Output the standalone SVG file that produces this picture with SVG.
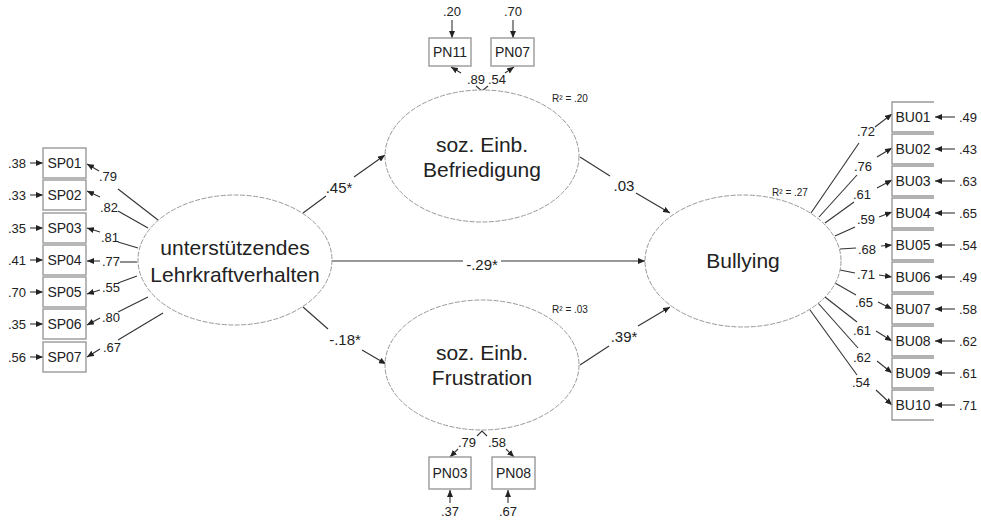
<svg xmlns="http://www.w3.org/2000/svg" width="981" height="520" viewBox="0 0 981 520">
<defs>
<marker id="ah" markerUnits="userSpaceOnUse" markerWidth="7" markerHeight="6" refX="7" refY="3" orient="auto"><path d="M0,0 L7,3 L0,6 z" fill="#222"/></marker>
<style>
text{font-family:"Liberation Sans",Arial,sans-serif;fill:#222;text-anchor:middle}
.n{font-size:13px}
.p{font-size:15px}
.b{font-size:14px}
.l{font-size:21px}
.r{font-size:10px}
.ell{fill:#fff;stroke:#999;stroke-width:1;stroke-dasharray:5 1.5}
.box{fill:none;stroke:#999;stroke-width:1.4}
.c line,.c path{stroke:#333;stroke-width:1.1;fill:none}
.a{marker-end:url(#ah)}
</style>
</defs>
<rect width="981" height="520" fill="#fff"/>

<g id="connectors" class="c">
<line x1="303" y1="213" x2="326" y2="196"/><line class="a" x1="354" y1="177" x2="385" y2="155"/>
<line x1="332" y1="261" x2="463" y2="261"/><line class="a" x1="501" y1="261" x2="645" y2="261"/>
<line x1="303" y1="307" x2="328" y2="329"/><line class="a" x1="362" y1="350" x2="386" y2="364"/>
<line x1="580" y1="157" x2="610" y2="176"/><line class="a" x1="636" y1="193" x2="670" y2="213"/>
<line x1="580" y1="365" x2="609" y2="346"/><line class="a" x1="638" y1="326" x2="670" y2="307"/>
<line x1="158" y1="220" x2="118" y2="189"/><line class="a" x1="99" y1="171" x2="87" y2="164"/>
<line x1="148" y1="228" x2="118" y2="211"/><line class="a" x1="100" y1="197" x2="87" y2="191"/>
<line x1="138" y1="248" x2="118" y2="242"/><line class="a" x1="100" y1="232" x2="87" y2="228"/>
<line x1="137" y1="262" x2="120" y2="262"/><line class="a" x1="100" y1="261" x2="87" y2="261"/>
<line x1="137" y1="276" x2="118" y2="283"/><line class="a" x1="100" y1="290" x2="87" y2="294"/>
<line x1="148" y1="297" x2="118" y2="312"/><line class="a" x1="100" y1="318" x2="87" y2="325"/>
<line x1="163" y1="313" x2="118" y2="340"/><line class="a" x1="100" y1="349" x2="87" y2="357"/>
<line class="a" x1="30" y1="163" x2="43" y2="163"/>
<line class="a" x1="30" y1="195" x2="43" y2="195"/>
<line class="a" x1="30" y1="228" x2="43" y2="228"/>
<line class="a" x1="30" y1="260" x2="43" y2="260"/>
<line class="a" x1="30" y1="292" x2="43" y2="292"/>
<line class="a" x1="30" y1="324" x2="43" y2="324"/>
<line class="a" x1="30" y1="357" x2="43" y2="357"/>
<line x1="811" y1="213" x2="859" y2="143"/><line class="a" x1="875" y1="127" x2="892" y2="114"/>
<line x1="819" y1="217" x2="857" y2="175"/><line class="a" x1="877" y1="157" x2="892" y2="148"/>
<line x1="825" y1="223" x2="854" y2="202"/><line class="a" x1="877" y1="188" x2="892" y2="180"/>
<line x1="835" y1="236" x2="855" y2="227"/><line class="a" x1="879" y1="217" x2="892" y2="212"/>
<line x1="840" y1="249" x2="856" y2="248"/><line class="a" x1="881" y1="246" x2="892" y2="245"/>
<line x1="840" y1="270" x2="855" y2="273"/><line class="a" x1="879" y1="275" x2="892" y2="277"/>
<line x1="835" y1="283" x2="856" y2="295"/><line class="a" x1="878" y1="302" x2="892" y2="309"/>
<line x1="825" y1="297" x2="857" y2="322"/><line class="a" x1="876" y1="331" x2="892" y2="341"/>
<line x1="818" y1="303" x2="858" y2="348"/><line class="a" x1="877" y1="361" x2="892" y2="373"/>
<line x1="810" y1="310" x2="857" y2="375"/><line class="a" x1="876" y1="390" x2="892" y2="405"/>
<line class="a" x1="955" y1="117" x2="935" y2="117"/>
<line class="a" x1="955" y1="149" x2="935" y2="149"/>
<line class="a" x1="955" y1="181" x2="935" y2="181"/>
<line class="a" x1="955" y1="213" x2="935" y2="213"/>
<line class="a" x1="955" y1="245" x2="935" y2="245"/>
<line class="a" x1="955" y1="277" x2="935" y2="277"/>
<line class="a" x1="955" y1="309" x2="935" y2="309"/>
<line class="a" x1="955" y1="341" x2="935" y2="341"/>
<line class="a" x1="955" y1="373" x2="935" y2="373"/>
<line class="a" x1="955" y1="405" x2="935" y2="405"/>
<line class="a" x1="452" y1="20" x2="452" y2="38"/>
<line class="a" x1="513" y1="20" x2="513" y2="38"/>
<path d="M476,86 L482,91 L488,86"/>
<line class="a" x1="461" y1="73" x2="451" y2="67"/>
<line class="a" x1="505" y1="73" x2="514" y2="67"/>
<path d="M477,436 L482,431 L487,436"/>
<line class="a" x1="458" y1="449" x2="450" y2="457"/>
<line class="a" x1="506" y1="449" x2="514" y2="457"/>
<line class="a" x1="450" y1="503" x2="450" y2="490"/>
<line class="a" x1="508" y1="503" x2="508" y2="490"/>
</g>

<g id="lehrkraft"><ellipse class="ell" cx="235" cy="260" rx="97" ry="65"/><text class="l" x="235" y="255">unterstützendes</text><text class="l" x="235" y="282">Lehrkraftverhalten</text></g>
<g id="befriedigung"><ellipse class="ell" cx="482" cy="156" rx="97" ry="66"/><text class="l" x="482" y="152">soz. Einb.</text><text class="l" x="482" y="177">Befriedigung</text><text class="r" x="570" y="102">R² = .20</text></g>
<g id="frustration"><ellipse class="ell" cx="482" cy="365" rx="97" ry="65"/><text class="l" x="482" y="360">soz. Einb.</text><text class="l" x="482" y="385">Frustration</text><text class="r" x="570" y="313">R² = .03</text></g>
<g id="bullying"><ellipse class="ell" cx="743" cy="261" rx="98" ry="66"/><text class="l" x="743" y="268">Bullying</text><text class="r" x="790" y="196">R² = .27</text></g>

<g id="path-labels">
<text class="p" x="339" y="193">.45*</text>
<text class="p" x="482" y="270">-.29*</text>
<text class="p" x="345" y="345">-.18*</text>
<text class="p" x="624" y="191">.03</text>
<text class="p" x="624" y="342">.39*</text>
</g>

<g id="SP01"><rect class="box" x="43" y="148" width="43" height="30"/><text class="b" x="64.5" y="168">SP01</text><text class="n" x="17" y="168">.38</text><text class="n" x="108" y="181">.79</text></g>
<g id="SP02"><rect class="box" x="43" y="180" width="43" height="30"/><text class="b" x="64.5" y="200">SP02</text><text class="n" x="17" y="200">.33</text><text class="n" x="109" y="212">.82</text></g>
<g id="SP03"><rect class="box" x="43" y="213" width="43" height="30"/><text class="b" x="64.5" y="233">SP03</text><text class="n" x="17" y="233">.35</text><text class="n" x="110" y="242">.81</text></g>
<g id="SP04"><rect class="box" x="43" y="245" width="43" height="30"/><text class="b" x="64.5" y="265">SP04</text><text class="n" x="17" y="265">.41</text><text class="n" x="111" y="266">.77</text></g>
<g id="SP05"><rect class="box" x="43" y="277" width="43" height="30"/><text class="b" x="64.5" y="297">SP05</text><text class="n" x="17" y="297">.70</text><text class="n" x="111" y="292">.55</text></g>
<g id="SP06"><rect class="box" x="43" y="309" width="43" height="30"/><text class="b" x="64.5" y="329">SP06</text><text class="n" x="17" y="329">.35</text><text class="n" x="111" y="322">.80</text></g>
<g id="SP07"><rect class="box" x="43" y="342" width="43" height="30"/><text class="b" x="64.5" y="362">SP07</text><text class="n" x="17" y="362">.56</text><text class="n" x="112" y="352">.67</text></g>

<g id="BU01"><path class="box" d="M934,102 H892 V132 H934"/><text class="b" x="913" y="122">BU01</text><text class="n" x="968" y="122">.49</text><text class="n" x="866" y="136">.72</text></g>
<g id="BU02"><path class="box" d="M934,134 H892 V164 H934"/><text class="b" x="913" y="154">BU02</text><text class="n" x="968" y="154">.43</text><text class="n" x="863" y="171">.76</text></g>
<g id="BU03"><path class="box" d="M934,166 H892 V196 H934"/><text class="b" x="913" y="186">BU03</text><text class="n" x="968" y="186">.63</text><text class="n" x="862" y="199">.61</text></g>
<g id="BU04"><path class="box" d="M934,198 H892 V228 H934"/><text class="b" x="913" y="218">BU04</text><text class="n" x="968" y="218">.65</text><text class="n" x="866" y="224">.59</text></g>
<g id="BU05"><path class="box" d="M934,230 H892 V260 H934"/><text class="b" x="913" y="250">BU05</text><text class="n" x="968" y="250">.54</text><text class="n" x="867" y="254">.68</text></g>
<g id="BU06"><path class="box" d="M934,262 H892 V292 H934"/><text class="b" x="913" y="282">BU06</text><text class="n" x="968" y="282">.49</text><text class="n" x="866" y="279">.71</text></g>
<g id="BU07"><path class="box" d="M934,294 H892 V324 H934"/><text class="b" x="913" y="314">BU07</text><text class="n" x="968" y="314">.58</text><text class="n" x="864" y="307">.65</text></g>
<g id="BU08"><path class="box" d="M934,326 H892 V356 H934"/><text class="b" x="913" y="346">BU08</text><text class="n" x="968" y="346">.62</text><text class="n" x="862" y="335">.61</text></g>
<g id="BU09"><path class="box" d="M934,358 H892 V388 H934"/><text class="b" x="913" y="378">BU09</text><text class="n" x="968" y="378">.61</text><text class="n" x="862" y="362">.62</text></g>
<g id="BU10"><path class="box" d="M934,390 H892 V420 H934"/><text class="b" x="913" y="410">BU10</text><text class="n" x="968" y="410">.71</text><text class="n" x="861" y="387">.54</text></g>

<g id="PN11"><rect class="box" x="429" y="38" width="42" height="28"/><text class="b" x="450" y="57">PN11</text><text class="n" x="452" y="16">.20</text><text class="n" x="476" y="84">.89</text></g>
<g id="PN07"><rect class="box" x="491" y="38" width="43" height="28"/><text class="b" x="512.5" y="57">PN07</text><text class="n" x="513" y="16">.70</text><text class="n" x="497" y="84">.54</text></g>
<g id="PN03"><rect class="box" x="429" y="457" width="42" height="32"/><text class="b" x="450" y="478">PN03</text><text class="n" x="450" y="516">.37</text><text class="n" x="467" y="447">.79</text></g>
<g id="PN08"><rect class="box" x="492" y="457" width="43" height="32"/><text class="b" x="513.5" y="478">PN08</text><text class="n" x="508" y="516">.67</text><text class="n" x="497" y="447">.58</text></g>
</svg>
